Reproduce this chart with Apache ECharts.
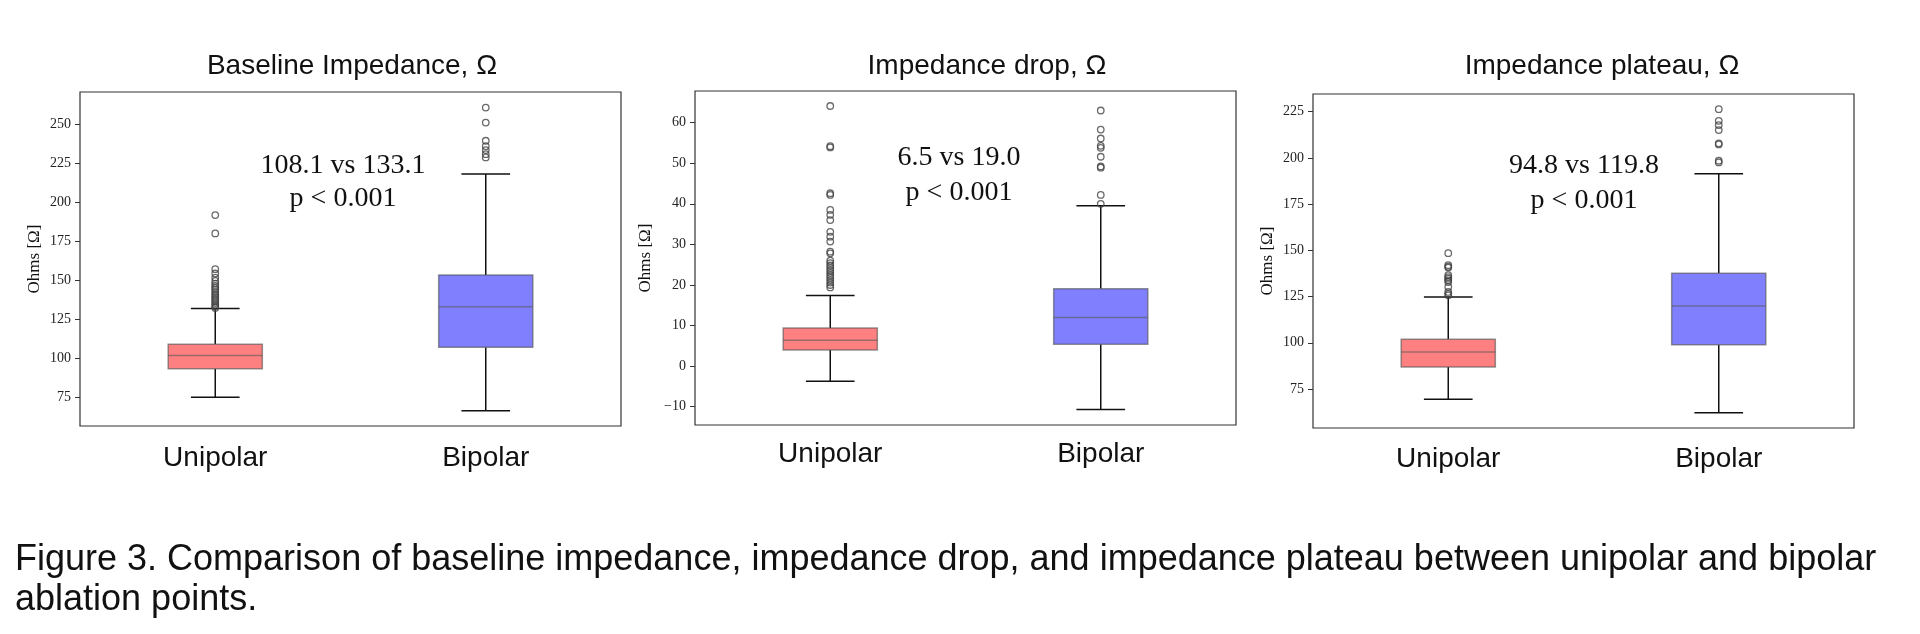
<!DOCTYPE html>
<html>
<head>
<meta charset="utf-8">
<title>Figure 3</title>
<script src="https://cdn.jsdelivr.net/npm/echarts@6.0.0/dist/echarts.min.js"></script>
<style>
  html, body { margin: 0; padding: 0; background: #fff; }
  #chart { width: 1920px; height: 634px; }
</style>
</head>
<body>
<div id="chart"></div>
<script>
const categories = ['Unipolar', 'Bipolar'];

// [lower whisker, Q1, median, Q3, upper whisker] for Unipolar, Bipolar
const baselineBoxes = [[75, 93.4, 101.9, 109, 132.1], [66.4, 107.1, 133.2, 153.5, 218.3]];
const baselineUniOut = [192, 180.2, 157.3, 154.5, 151.9, 149.7, 148.0, 146.5, 145.2, 144.0, 142.6,
  141.3, 140.1, 139.0, 137.8, 136.6, 135.5, 134.4, 133.3, 132.4];
const baselineBiOut = [261, 251.4, 239.7, 236.2, 233.7, 231.1, 229];
const baselineTicks = [75, 100, 125, 150, 175, 200, 225, 250];

const dropBoxes = [[-3.7, 4.0, 6.4, 9.4, 17.4], [-10.7, 5.4, 12.0, 19.1, 39.5]];
const dropUniOut = [64.1, 54.2, 53.9, 42.6, 42.2, 38.5, 37.3, 36.0, 33.1, 31.9, 30.7, 28.2, 27.8,
  26.0, 25.4, 24.8, 24.2, 23.6, 23.0, 22.4, 21.8, 21.2, 20.6, 20.0, 19.4];
const dropBiOut = [63.0, 58.3, 56.1, 54.3, 53.8, 51.6, 49.2, 48.9, 42.2, 40.0];
const dropTicks = [-10, 0, 10, 20, 30, 40, 50, 60];

const plateauBoxes = [[69.4, 86.9, 95, 101.9, 124.8], [62.2, 99, 119.9, 137.6, 191.4]];
const plateauUniOut = [148.5, 142, 141.2, 140.7, 136.6, 135.5, 134.7, 133.8, 132.9, 130.2, 127.5, 126.5, 125.7];
const plateauBiOut = [226.4, 220.1, 217.8, 215.1, 207.9, 207.3, 198.5, 197.6];
const plateauTicks = [75, 100, 125, 150, 175, 200, 225];

const titles = ['Baseline Impedance, \u03A9', 'Impedance drop, \u03A9', 'Impedance plateau, \u03A9'];
const comparisons = ['108.1 vs 133.1', '6.5 vs 19.0', '94.8 vs 119.8'];
const pValues = ['p < 0.001', 'p < 0.001', 'p < 0.001'];
const caption = [
  'Figure 3. Comparison of baseline impedance, impedance drop, and impedance plateau between unipolar and bipolar',
  'ablation points.'
];

const boxFills = ['#ff8080', '#8080ff'];

// layout of the three panels (px)
const panels = [
  { boxes: baselineBoxes, uni: baselineUniOut, bi: baselineBiOut, ticks: baselineTicks,
    min: 56.6, max: 271, grid: { left: 80, top: 92, width: 541, height: 334 },
    nameGap: 37, labelMargin: 18, titleX: 352, noteX: 343, noteY: [166, 199] },
  { boxes: dropBoxes, uni: dropUniOut, bi: dropBiOut, ticks: dropTicks,
    min: -14.5, max: 67.8, grid: { left: 695, top: 91, width: 541, height: 334 },
    nameGap: 41, labelMargin: 15, titleX: 987, noteX: 959, noteY: [158, 193] },
  { boxes: plateauBoxes, uni: plateauUniOut, bi: plateauBiOut, ticks: plateauTicks,
    min: 53.9, max: 234.6, grid: { left: 1313, top: 94, width: 541, height: 334 },
    nameGap: 37, labelMargin: 17, titleX: 1602, noteX: 1584, noteY: [166, 201] }
];

function renderBox(params, api) {
  const i = api.value(0);
  const band = api.size([1, 0])[0];
  const half = band * 0.174;
  const cap = band * 0.09;
  const lo = api.coord([i, api.value(1)]);
  const cx = lo[0];
  const yLo = lo[1];
  const yQ1 = api.coord([i, api.value(2)])[1];
  const yMed = api.coord([i, api.value(3)])[1];
  const yQ3 = api.coord([i, api.value(4)])[1];
  const yHi = api.coord([i, api.value(5)])[1];
  const whisker = { stroke: '#111', lineWidth: 1.5 };
  return {
    type: 'group',
    children: [
      { type: 'line', shape: { x1: cx, y1: yQ1, x2: cx, y2: yLo }, style: whisker },
      { type: 'line', shape: { x1: cx, y1: yQ3, x2: cx, y2: yHi }, style: whisker },
      { type: 'line', shape: { x1: cx - cap, y1: yLo, x2: cx + cap, y2: yLo }, style: whisker },
      { type: 'line', shape: { x1: cx - cap, y1: yHi, x2: cx + cap, y2: yHi }, style: whisker },
      { type: 'rect', shape: { x: cx - half, y: yQ3, width: half * 2, height: yQ1 - yQ3 },
        style: { fill: boxFills[i], stroke: 'rgba(80,80,80,0.6)', lineWidth: 1.5 } },
      { type: 'line', shape: { x1: cx - half, y1: yMed, x2: cx + half, y2: yMed },
        style: { stroke: 'rgba(90,90,90,0.6)', lineWidth: 1.5 } }
    ]
  };
}

const grid = [], xAxis = [], yAxis = [], series = [], graphic = [];

panels.forEach((p, k) => {
  grid.push(Object.assign({ show: true, borderColor: '#333', borderWidth: 1.2, backgroundColor: 'transparent' }, p.grid));
  xAxis.push({
    type: 'category', gridIndex: k, data: categories,
    axisLine: { show: false },
    axisTick: { alignWithLabel: true, length: 5, lineStyle: { color: '#333' } },
    axisLabel: { fontFamily: 'Liberation Sans', fontSize: 28, color: '#111', margin: p.labelMargin }
  });
  yAxis.push({
    type: 'value', gridIndex: k, min: p.min, max: p.max,
    name: 'Ohms [\u03A9]', nameLocation: 'middle', nameRotate: 90, nameGap: p.nameGap,
    nameTextStyle: { fontFamily: 'Liberation Serif', fontSize: 17, color: '#111' },
    axisLine: { show: false },
    splitLine: { show: false },
    axisTick: { show: true, length: 5, customValues: p.ticks, lineStyle: { color: '#333' } },
    axisLabel: {
      customValues: p.ticks, margin: 9, fontFamily: 'Liberation Serif', fontSize: 14, color: '#222',
      formatter: v => String(v).replace('-', '\u2212')
    }
  });
  series.push({
    type: 'custom', xAxisIndex: k, yAxisIndex: k,
    renderItem: renderBox,
    encode: { x: 0, y: [1, 2, 3, 4, 5] },
    data: p.boxes.map((b, i) => [i].concat(b)),
    silent: true
  });
  series.push({
    type: 'scatter', xAxisIndex: k, yAxisIndex: k,
    symbol: 'circle', symbolSize: 6.5,
    itemStyle: { color: 'rgba(0,0,0,0)', borderColor: '#444', borderWidth: 1.3 },
    data: p.uni.map(v => [0, v]).concat(p.bi.map(v => [1, v])),
    silent: true
  });
  graphic.push({
    type: 'text', x: p.titleX, y: 66,
    style: { text: titles[k], font: '28px "Liberation Sans"', fill: '#111', align: 'center', verticalAlign: 'middle' }
  });
  graphic.push({
    type: 'text', x: p.noteX, y: p.noteY[0],
    style: { text: comparisons[k], font: '28px "Liberation Serif"', fill: '#111', align: 'center', verticalAlign: 'middle' }
  });
  graphic.push({
    type: 'text', x: p.noteX, y: p.noteY[1],
    style: { text: pValues[k], font: '28px "Liberation Serif"', fill: '#111', align: 'center', verticalAlign: 'middle' }
  });
});

caption.forEach((line, i) => {
  graphic.push({
    type: 'text', x: 15, y: 560 + i * 40,
    style: { text: line, font: '36px "Liberation Sans"', fill: '#111', align: 'left', verticalAlign: 'middle' }
  });
});

const chart = echarts.init(document.getElementById('chart'));
chart.setOption({
  animation: false,
  backgroundColor: '#fff',
  grid, xAxis, yAxis, series, graphic
});
</script>
</body>
</html>
